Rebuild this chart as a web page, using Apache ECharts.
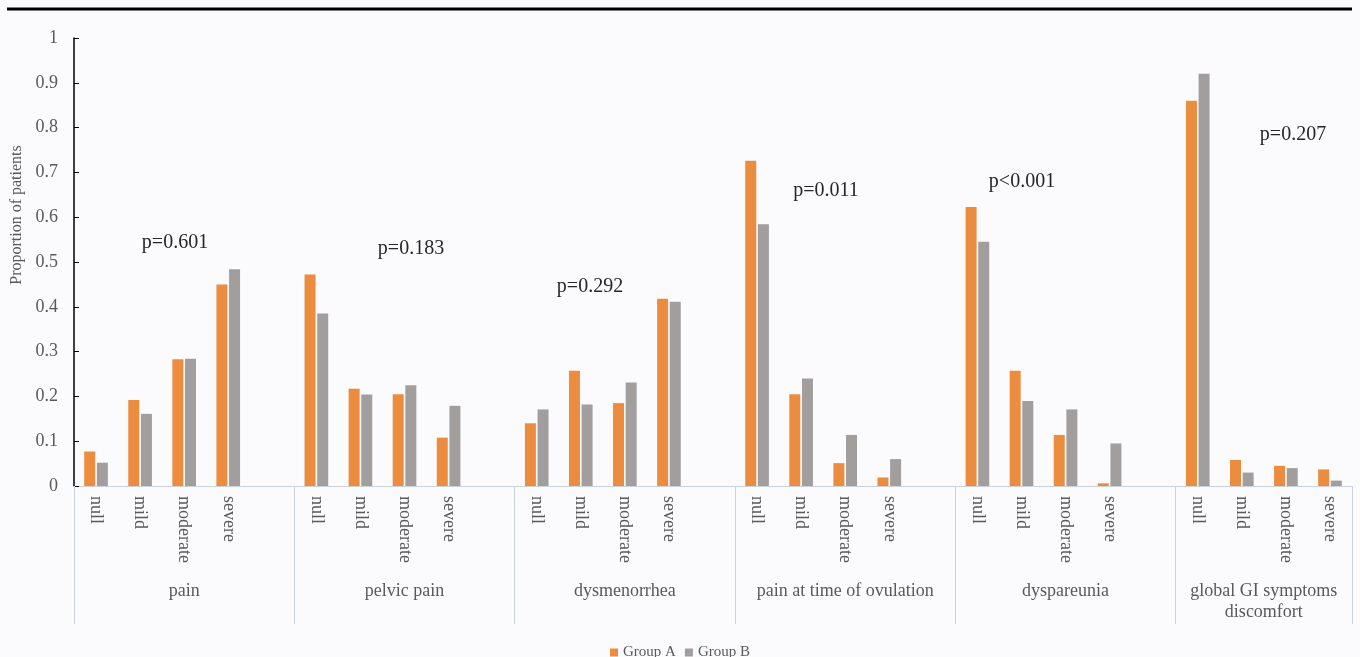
<!DOCTYPE html>
<html>
<head>
<meta charset="utf-8">
<script src="https://cdn.jsdelivr.net/npm/echarts@6/dist/echarts.min.js"></script>
<style>
  html, body { margin: 0; padding: 0; background: #fff; }
  #chart { width: 1360px; height: 657px; }
</style>
</head>
<body>
<div id="chart"></div>
<script>
// symptom groups and severity levels
var groups = ['pain', 'pelvic pain', 'dysmenorrhea', 'pain at time of ovulation', 'dyspareunia', 'global GI symptoms\ndiscomfort'];
var levels = ['null', 'mild', 'moderate', 'severe'];
// proportion of patients, 4 levels per group, in group order
var groupA = [0.077, 0.192, 0.283, 0.450,
              0.472, 0.217, 0.205, 0.108,
              0.140, 0.257, 0.185, 0.418,
              0.726, 0.205, 0.051, 0.019,
              0.623, 0.257, 0.114, 0.006,
              0.860, 0.058, 0.045, 0.037];
var groupB = [0.052, 0.161, 0.284, 0.484,
              0.385, 0.204, 0.225, 0.179,
              0.171, 0.182, 0.231, 0.411,
              0.584, 0.240, 0.114, 0.060,
              0.545, 0.190, 0.171, 0.095,
              0.920, 0.030, 0.040, 0.012];
var pLabels = ['p=0.601', 'p=0.183', 'p=0.292', 'p=0.011', 'p<0.001', 'p=0.207'];
var yTicks = [0, 0.1, 0.2, 0.3, 0.4, 0.5, 0.6, 0.7, 0.8, 0.9, 1];

// build the category slots: every group but the last one is followed by an empty slot
var cats = [], dataA = [], dataB = [], bounds = [0], centers = [], centerName = {};
groups.forEach(function (g, gi) {
  var start = cats.length;
  levels.forEach(function (l, li) {
    cats.push(l);
    dataA.push(groupA[gi * 4 + li]);
    dataB.push(groupB[gi * 4 + li]);
  });
  if (gi < groups.length - 1) {
    cats.push('');
    dataA.push(null);
    dataB.push(null);
  }
  bounds.push(cats.length);
  var c = (start + cats.length) / 2;
  centers.push(c);
  centerName[c] = g;
});

var serif = '"Liberation Serif", "DejaVu Serif", serif';
var pPos = [[175, 243], [411, 249], [590, 287], [826, 191], [1022, 182], [1293, 135]];

var myChart = echarts.init(document.getElementById('chart'));
myChart.setOption({
  backgroundColor: '#fbfbfd',
  animation: false,
  grid: { left: 74, right: 8, top: 38, bottom: 171 },
  legend: {
    top: 640,
    left: 605,
    itemWidth: 8,
    itemHeight: 8,
    itemGap: 9,
    icon: 'rect',
    textStyle: { fontFamily: serif, fontSize: 15, color: '#595959' },
    data: ['Group A', 'Group B']
  },
  xAxis: [
    {
      type: 'category',
      data: cats,
      axisLine: { lineStyle: { color: '#c9d2dd', width: 1 } },
      axisTick: { show: false },
      axisLabel: {
        interval: 0,
        rotate: -90,
        margin: 10,
        fontFamily: serif,
        fontSize: 18,
        color: '#595959'
      }
    },
    {
      type: 'value',
      position: 'bottom',
      min: 0,
      max: cats.length,
      axisLine: { show: false },
      splitLine: { show: false },
      axisTick: {
        show: true,
        length: 138,
        customValues: bounds,
        lineStyle: { color: '#c9d2dd', width: 1 }
      },
      axisLabel: {
        customValues: centers,
        margin: 95,
        fontFamily: serif,
        fontSize: 18,
        lineHeight: 21,
        color: '#595959',
        formatter: function (v) { return centerName[v] || ''; }
      }
    }
  ],
  yAxis: {
    type: 'value',
    min: 0,
    max: 1,
    interval: 0.1,
    axisLine: { show: true, lineStyle: { color: '#000', width: 1.5 } },
    axisTick: { show: true, inside: true, length: 5, lineStyle: { color: '#000' } },
    splitLine: { show: false },
    axisLabel: {
      margin: 16,
      fontFamily: serif,
      fontSize: 18,
      color: '#595959',
      formatter: function (v) {
        var i = yTicks.indexOf(Math.round(v * 10) / 10);
        return i >= 0 ? String(yTicks[i]) : '';
      }
    }
  },
  series: [
    {
      name: 'Group A',
      type: 'bar',
      data: dataA,
      barWidth: 11,
      barGap: '15%',
      itemStyle: { color: '#eb8c3f' }
    },
    {
      name: 'Group B',
      type: 'bar',
      data: dataB,
      barWidth: 11,
      itemStyle: { color: '#a39e9e' }
    }
  ],
  graphic: [
    {
      type: 'line',
      shape: { x1: 7, y1: 9, x2: 1352, y2: 9 },
      style: { stroke: '#000', lineWidth: 3 }
    },
    {
      type: 'text',
      x: 17,
      y: 215,
      rotation: Math.PI / 2,
      style: {
        text: 'Proportion of patients',
        fontFamily: serif,
        fontSize: 16,
        fill: '#595959',
        textAlign: 'center',
        textVerticalAlign: 'middle'
      }
    }
  ].concat(pLabels.map(function (t, i) {
    return {
      type: 'text',
      x: pPos[i][0],
      y: pPos[i][1],
      style: {
        text: t,
        fontFamily: serif,
        fontSize: 20,
        fill: '#262626',
        textAlign: 'center',
        textVerticalAlign: 'middle'
      }
    };
  }))
});
</script>
</body>
</html>
